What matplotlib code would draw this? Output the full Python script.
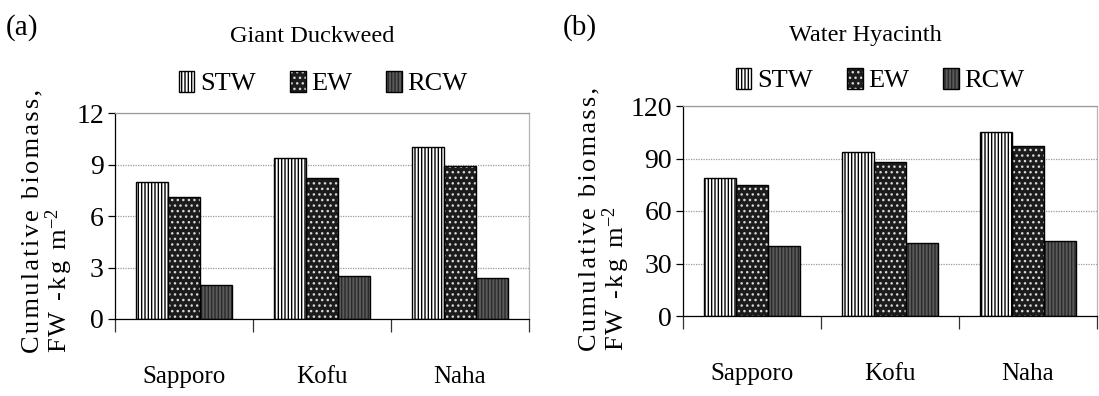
import numpy as np
import matplotlib
matplotlib.use("Agg")
import matplotlib.pyplot as plt
from matplotlib.patches import Patch

plt.rcParams["font.family"] = ["Liberation Serif", "DejaVu Serif"]
plt.rcParams["mathtext.fontset"] = "custom"
plt.rcParams["mathtext.rm"] = "Liberation Serif"
plt.rcParams["mathtext.it"] = "Liberation Serif:italic"
plt.rcParams["hatch.linewidth"] = 1.0

# Data
cities = ["Sapporo", "Kofu", "Naha"]
treatments = ["STW", "EW", "RCW"]
duckweed_stw = [8.0, 9.4, 10.0]
duckweed_ew = [7.1, 8.2, 8.9]
duckweed_rcw = [2.0, 2.5, 2.4]
hyacinth_stw = [79, 94, 105]
hyacinth_ew = [75, 88, 97]
hyacinth_rcw = [40, 41.5, 43]
duckweed_ticks = [0, 3, 6, 9, 12]
hyacinth_ticks = [0, 30, 60, 90, 120]

W, H = 1099, 396
fig = plt.figure(figsize=(W / 100, H / 100), dpi=100)


def px(x, y):
    return x / W, 1 - y / H


def spaced(text):
    # widen the letter spacing with hair spaces
    return "\u200a".join(text)


BW = 0.233
styles = {
    "STW": ("white", "black", "|||||"),
    "EW": ("#1c1c1c", "#d8d8d8", "..."),
    "RCW": ("#5a5a5a", "#2a2a2a", "|||||"),
}


def draw_bars(ax, x, vals, style):
    face, hcolor, hatch = style
    ax.bar(x, vals, width=BW, facecolor=face, edgecolor=hcolor, hatch=hatch,
           linewidth=0, zorder=2)
    ax.bar(x, vals, width=BW, fill=False, edgecolor="black", linewidth=1.0,
           zorder=3)


def panel(rect, series, ticks, title, title_xy, tag, tag_xy, leg_xy, ylab_xy):
    ax = fig.add_axes(rect)
    x = np.arange(len(cities))
    for i, (name, vals) in enumerate(zip(treatments, series)):
        draw_bars(ax, x + (i - 1) * BW, vals, styles[name])

    ax.set_xlim(-0.5, len(cities) - 0.5)
    ax.set_ylim(ticks[0], ticks[-1])
    ax.set_yticks(ticks)
    ax.set_xticks(np.arange(-0.5, len(cities)))
    ax.set_xticklabels([])
    ax.set_xticks(x, labels=cities, minor=True)
    ax.tick_params(axis="x", which="major", direction="out", length=9.5,
                   width=0.9, color="#333333")
    ax.tick_params(axis="x", which="minor", length=0, pad=34, labelsize=18)
    ax.tick_params(axis="y", direction="out", length=5, width=0.9, pad=3,
                   labelsize=20)

    ax.yaxis.grid(True, linestyle=(0, (1, 1)), color="#9a9a9a", linewidth=0.9)
    ax.set_axisbelow(True)
    ax.spines["top"].set_linestyle((0, (1, 1)))
    ax.spines["top"].set_color("#9a9a9a")
    ax.spines["top"].set_linewidth(0.9)
    ax.spines["right"].set_color("#b5b5b5")
    ax.spines["right"].set_linewidth(0.9)
    ax.spines["left"].set_linewidth(0.9)
    ax.spines["bottom"].set_linewidth(0.9)

    handles = []
    for name in treatments:
        face, hcolor, hatch = styles[name]
        fill = Patch(facecolor=face, edgecolor=hcolor, hatch=hatch, linewidth=0)
        edge = Patch(fill=False, edgecolor="black", linewidth=1.0)
        handles.append((fill, edge))
    ax.legend(handles, treatments, loc="center", ncol=3, frameon=False,
              bbox_to_anchor=px(*leg_xy), bbox_transform=fig.transFigure,
              fontsize=19, handlelength=0.6, handleheight=0.85,
              handletextpad=0.2, columnspacing=1.3, borderpad=0)

    fig.text(*px(*title_xy), title, ha="center", va="center", fontsize=17.5)
    fig.text(*px(*tag_xy), tag, ha="center", va="center", fontsize=21)
    fig.text(*px(*ylab_xy),
             spaced("Cumulative biomass,") + "\n" + spaced("FW -kg m") + "$^{-2}$",
             rotation=90, ha="center", va="bottom", multialignment="left",
             fontsize=19, linespacing=1.0)
    return ax


panel([115 / W, 1 - 319 / H, 414 / W, 206 / H],
      [duckweed_stw, duckweed_ew, duckweed_rcw], duckweed_ticks,
      "Giant Duckweed", (312, 36), "(a)", (22, 28), (323, 83), (48, 353))
panel([683 / W, 1 - 316 / H, 414 / W, 210 / H],
      [hyacinth_stw, hyacinth_ew, hyacinth_rcw], hyacinth_ticks,
      "Water Hyacinth", (865, 36), "(b)", (580, 28), (880, 80), (605, 351))

fig.savefig("out.png", dpi=100)
